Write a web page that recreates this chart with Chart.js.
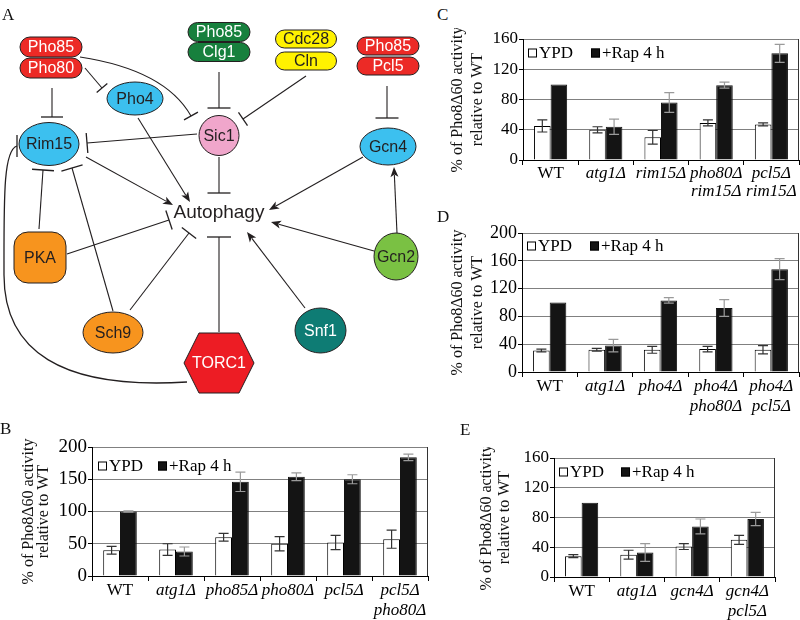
<!DOCTYPE html>
<html>
<head>
<meta charset="utf-8">
<script src="https://cdn.jsdelivr.net/npm/chart.js@4.4.1/dist/chart.umd.min.js"></script>
<style>
  body { margin: 0; background: #fff; }
  #page { position: relative; width: 800px; height: 620px; overflow: hidden; }
  canvas { position: absolute; }
  .tag { position: absolute; font: 17px "Liberation Serif", serif; color: #111; line-height: 1; }
</style>
</head>
<body>
<div id="page">
  <canvas id="net" width="430" height="400" style="left:0;top:0"></canvas>
  <canvas id="chartB" width="411" height="184" style="left:21px;top:436px"></canvas>
  <canvas id="chartC" width="352" height="177" style="left:448px;top:28px"></canvas>
  <canvas id="chartD" width="352" height="193" style="left:448px;top:222px"></canvas>
  <canvas id="chartE" width="302" height="173" style="left:478px;top:447px"></canvas>
  <div class="tag" style="left:2px;top:6px">A</div>
  <div class="tag" style="left:0px;top:420px">B</div>
  <div class="tag" style="left:437px;top:6px">C</div>
  <div class="tag" style="left:437px;top:208px">D</div>
  <div class="tag" style="left:460px;top:421px">E</div>
</div>
<script>
// ---- data ----
const seriesNames = ['YPD', '+Rap 4 h'];

// B
const bLabels = ['WT', 'atg1Δ', 'pho85Δ', 'pho80Δ', 'pcl5Δ', ['pcl5Δ', 'pho80Δ']];
const bYpd = [40, 41, 60, 50, 52, 57];
const bYpdErr = [6, 9, 6, 11, 11, 14];
const bRap = [100, 38, 146, 154, 150, 184];
const bRapErr = [1, 7, 15, 6, 7, 5];

// C
const cLabels = ['WT', 'atg1Δ', 'rim15Δ', ['pho80Δ', 'rim15Δ'], ['pcl5Δ', 'rim15Δ']];
const cYpd = [45, 40, 30, 49, 47];
const cYpdErr = [8, 4, 9, 4, 2];
const cRap = [100, 44, 76, 99, 141];
const cRapErr = [0, 10, 13, 4, 12];

// D
const dLabels = ['WT', 'atg1Δ', 'pho4Δ', ['pho4Δ', 'pho80Δ'], ['pho4Δ', 'pcl5Δ']];
const dYpd = [31, 32, 32, 33, 32];
const dYpdErr = [2, 2, 5, 4, 6];
const dRap = [100, 38, 103, 92, 148];
const dRapErr = [0, 9, 4, 12, 15];

// E
const eLabels = ['WT', 'atg1Δ', 'gcn4Δ', ['gcn4Δ', 'pcl5Δ']];
const eYpd = [28, 30, 41, 50];
const eYpdErr = [2, 6, 4, 6];
const eRap = [100, 33, 68, 78];
const eRapErr = [0, 12, 10, 9];

const yTitle = ['% of Pho8Δ60 activity', 'relative to WT'];
const serif = '"Liberation Serif", "Times New Roman", serif';
const sans = '"Liberation Sans", Arial, sans-serif';

// ---- panel A: pathway diagram (plain canvas) ----
const net = document.getElementById('net').getContext('2d');
const ink = '#231f20';

function pill(cx, cy, w, h, fill, text, color) {
  const r = h / 2, x = cx - w / 2, y = cy - h / 2;
  net.beginPath();
  net.moveTo(x + r, y);
  net.lineTo(x + w - r, y);
  net.arc(x + w - r, cy, r, -Math.PI / 2, Math.PI / 2);
  net.lineTo(x + r, y + h);
  net.arc(x + r, cy, r, Math.PI / 2, Math.PI * 1.5);
  net.closePath();
  net.fillStyle = fill; net.fill();
  net.strokeStyle = ink; net.lineWidth = 1; net.stroke();
  label(cx, cy, text, color);
}

function oval(cx, cy, rx, ry, fill, text, color) {
  net.beginPath();
  net.ellipse(cx, cy, rx, ry, 0, 0, Math.PI * 2);
  net.fillStyle = fill; net.fill();
  net.strokeStyle = ink; net.lineWidth = 1; net.stroke();
  label(cx, cy, text, color);
}

function label(cx, cy, text, color, size) {
  net.font = (size || 16) + 'px ' + sans;
  net.fillStyle = color;
  net.textAlign = 'center';
  net.textBaseline = 'middle';
  net.fillText(text, cx, cy + 1);
}

// line ending in a perpendicular bar (inhibition)
function tbar(x1, y1, x2, y2, half) {
  net.strokeStyle = ink; net.lineWidth = 1.1;
  net.beginPath(); net.moveTo(x1, y1); net.lineTo(x2, y2); net.stroke();
  endBar(x2, y2, x2 - x1, y2 - y1, half);
}

function endBar(x, y, dx, dy, half) {
  const len = Math.hypot(dx, dy), px = -dy / len, py = dx / len;
  net.lineWidth = 1.3;
  net.beginPath(); net.moveTo(x - px * half, y - py * half); net.lineTo(x + px * half, y + py * half); net.stroke();
}

function arrow(x1, y1, x2, y2) {
  const a = Math.atan2(y2 - y1, x2 - x1), L = 10, W = 4;
  net.strokeStyle = ink; net.lineWidth = 1.1;
  net.beginPath(); net.moveTo(x1, y1);
  net.lineTo(x2 - Math.cos(a) * L * 0.8, y2 - Math.sin(a) * L * 0.8); net.stroke();
  net.fillStyle = ink;
  net.beginPath();
  net.moveTo(x2, y2);
  net.lineTo(x2 - Math.cos(a) * L - Math.sin(a) * W, y2 - Math.sin(a) * L + Math.cos(a) * W);
  net.lineTo(x2 - Math.cos(a) * L * 0.75, y2 - Math.sin(a) * L * 0.75);
  net.lineTo(x2 - Math.cos(a) * L + Math.sin(a) * W, y2 - Math.sin(a) * L - Math.cos(a) * W);
  net.closePath(); net.fill();
}

// edges
tbar(52, 88, 52, 117, 11);          // Pho85/Pho80 -| Rim15
tbar(85, 68, 102, 88, 7);           // Pho80 -| Pho4
net.strokeStyle = ink; net.lineWidth = 1.1;
net.beginPath(); net.moveTo(80, 57); net.quadraticCurveTo(165, 70, 191, 116); net.stroke();
endBar(191, 116, 26, 46, 8);         // Pho85 -| Sic1
tbar(219, 72, 219, 108, 11.5);       // Clg1 -| Sic1
tbar(306, 76, 243, 119, 8);          // Cln -| Sic1
tbar(387, 86, 387, 118, 11.5);       // Pcl5 -| Gcn4
tbar(197, 134, 87, 143, 10);         // Sic1 -| Rim15
net.beginPath(); net.moveTo(187, 382);
net.bezierCurveTo(60, 390, 4, 350, 4, 275);
net.bezierCurveTo(4, 200, 3, 150, 17, 146); net.stroke();
endBar(17, 146, 1, 0, 11);           // TORC1 -| Rim15
tbar(39, 229, 43, 170, 11);          // PKA -| Rim15
tbar(113, 311, 72, 168, 11);         // Sch9 -| Rim15
arrow(86, 157, 173, 205);            // Rim15 -> Autophagy
arrow(138, 118, 190, 202);           // Pho4 -> Autophagy
tbar(219, 157, 219, 193, 11.5);      // Sic1 -| Autophagy
arrow(363, 157, 269, 210);           // Gcn4 -> Autophagy
arrow(374, 251, 271, 222);           // Gcn2 -> Autophagy
arrow(397, 233, 394, 167);           // Gcn2 -> Gcn4
arrow(305, 308, 247, 232);           // Snf1 -> Autophagy
tbar(219, 332, 219, 237, 12);        // TORC1 -| Autophagy
tbar(67, 254, 169, 220, 10);         // PKA -| Autophagy
tbar(130, 310, 189, 233, 9);         // Sch9 -| Autophagy

// nodes
pill(51, 47, 62, 20, '#ec2a26', 'Pho85', '#fff');
pill(51, 68, 62, 20, '#ec2a26', 'Pho80', '#fff');
pill(219, 32, 62, 19, '#17803d', 'Pho85', '#fff');
pill(219, 52, 62, 19, '#17803d', 'Clg1', '#fff');
pill(306, 39, 61, 18, '#fff200', 'Cdc28', ink);
pill(306, 61, 61, 18, '#fff200', 'Cln', ink);
pill(388, 46, 62, 18, '#ec2a26', 'Pho85', '#fff');
pill(388, 66, 62, 18, '#ec2a26', 'Pcl5', '#fff');
oval(135, 98.5, 28, 16.5, '#3cc0ef', 'Pho4', ink);
oval(49, 144, 30, 21.5, '#3cc0ef', 'Rim15', ink);
oval(219, 135.5, 20, 20, '#f0a6cb', 'Sic1', ink);
oval(388, 146.5, 28, 18.5, '#3cc0ef', 'Gcn4', ink);
oval(113, 332.5, 30, 20.5, '#f7941e', 'Sch9', ink);
oval(320.5, 330.5, 25.5, 22.5, '#0e7c74', 'Snf1', '#fff');
oval(396, 256.5, 22, 23.5, '#7ac143', 'Gcn2', ink);

// PKA rounded block
net.beginPath(); net.roundRect(14, 232, 52, 51, 14);
net.fillStyle = '#f7941e'; net.fill(); net.strokeStyle = ink; net.lineWidth = 1; net.stroke();
label(40, 257.5, 'PKA', ink);

// TORC1 hexagon
net.beginPath();
[[184, 363], [199, 333], [239, 333], [254, 363], [239, 393], [199, 393]].forEach((p, i) => i ? net.lineTo(p[0], p[1]) : net.moveTo(p[0], p[1]));
net.closePath();
net.fillStyle = '#ed1c24'; net.fill(); net.strokeStyle = ink; net.stroke();
label(219, 363, 'TORC1', '#fff');

label(219, 212, 'Autophagy', ink, 19);

// ---- panels B-E: bar charts ----
const errorBars = {
  id: 'errorBars',
  afterDatasetsDraw(chart) {
    const {ctx} = chart;
    const y = chart.scales.y;
    chart.data.datasets.forEach((ds, i) => {
      chart.getDatasetMeta(i).data.forEach((bar, j) => {
        const err = ds.errors[j];
        if (!err) return;
        const top = y.getPixelForValue(ds.data[j] + err);
        const bot = y.getPixelForValue(ds.data[j] - err);
        ctx.save();
        ctx.strokeStyle = ds.errorColor;
        ctx.lineWidth = 1.2;
        ctx.beginPath();
        ctx.moveTo(bar.x, top); ctx.lineTo(bar.x, bot);
        ctx.moveTo(bar.x - 5, top); ctx.lineTo(bar.x + 5, top);
        ctx.moveTo(bar.x - 5, bot); ctx.lineTo(bar.x + 5, bot);
        ctx.stroke();
        ctx.restore();
      });
    });
  }
};

// legend drawn inside the plot box, top-left
const boxLegend = {
  id: 'boxLegend',
  afterDraw(chart, args, opts) {
    const {ctx, chartArea} = chart;
    let x = chartArea.left + opts.dx;
    const y = chartArea.top + opts.dy;
    ctx.save();
    ctx.font = opts.size + 'px ' + serif;
    ctx.textBaseline = 'middle';
    chart.data.datasets.forEach(ds => {
      ctx.fillStyle = ds.backgroundColor;
      ctx.fillRect(x, y - 4.5, 9, 9);
      ctx.strokeStyle = '#000';
      ctx.lineWidth = 1;
      ctx.strokeRect(x + 0.5, y - 4, 8, 8);
      ctx.fillStyle = '#000';
      ctx.fillText(ds.label, x + 11, y + 1);
      x += 11 + ctx.measureText(ds.label).width + opts.gap;
    });
    ctx.restore();
  }
};

// right edge of the plot box
const frame = {
  id: 'frame',
  afterDraw(chart) {
    const {ctx, chartArea} = chart;
    ctx.save();
    ctx.strokeStyle = '#333';
    ctx.lineWidth = 1;
    ctx.beginPath();
    ctx.moveTo(Math.round(chartArea.right) - 0.5, chartArea.top);
    ctx.lineTo(Math.round(chartArea.right) - 0.5, chartArea.bottom);
    ctx.stroke();
    ctx.restore();
  }
};

const makeChart = (id, labels, ypd, ypdErr, rap, rapErr, s) => {
  new Chart(document.getElementById(id), {
    type: 'bar',
    data: {
      labels: labels,
      datasets: [
        { label: seriesNames[0], data: ypd, errors: ypdErr, errorColor: '#333',
          backgroundColor: '#ffffff', borderColor: '#000', borderWidth: 1,
          categoryPercentage: 0.6, barPercentage: 1.0 },
        { label: seriesNames[1], data: rap, errors: rapErr, errorColor: '#9a9a9a',
          backgroundColor: '#141414', borderColor: '#141414', borderWidth: 1,
          categoryPercentage: 0.6, barPercentage: 1.0 }
      ]
    },
    options: {
      responsive: false,
      animation: false,
      layout: { padding: { top: s.padTop, right: s.padRight, left: 0, bottom: 0 } },
      plugins: {
        legend: { display: false },
        tooltip: { enabled: false },
        boxLegend: { dx: s.legDx, dy: s.legDy, gap: s.legGap, size: 17 }
      },
      scales: {
        x: {
          grid: { drawOnChartArea: false, offset: true, tickLength: 5, color: '#000' },
          border: { color: '#000', width: 1 },
          ticks: {
            color: '#000', padding: 0, maxRotation: 0, autoSkip: false,
            font: (c) => ({ family: serif, size: 17, lineHeight: s.xLh / 17, style: c.index === 0 ? 'normal' : 'italic' })
          },
          afterFit: (scale) => { scale.height = s.xHeight; scale.paddingLeft = 0; scale.paddingRight = 0; }
        },
        y: {
          min: 0, max: s.max,
          grid: { color: '#808080', tickColor: '#000', tickLength: 4 },
          border: { color: '#000', width: 1 },
          ticks: { stepSize: s.step, color: '#000', padding: 1, font: { family: serif, size: s.yFont } },
          title: {
            display: true, text: yTitle, color: '#111',
            padding: { top: 0, bottom: 0 },
            font: { family: serif, size: 16, lineHeight: s.titleLh / 16 }
          },
          afterFit: (scale) => { scale.width = s.yWidth; scale.paddingTop = 0; scale.paddingBottom = 0; }
        }
      }
    },
    plugins: [errorBars, boxLegend, frame]
  });
};

makeChart('chartB', bLabels, bYpd, bYpdErr, bRap, bRapErr,
  { padTop: 11, padRight: 4, xHeight: 44, yWidth: 71, max: 200, step: 50, yFont: 19, titleLh: 15, xLh: 20, legDx: 6, legDy: 19, legGap: 15 });
makeChart('chartC', cLabels, cYpd, cYpdErr, cRap, cRapErr,
  { padTop: 11, padRight: 1, xHeight: 45, yWidth: 75, max: 160, step: 40, yFont: 17, titleLh: 20, xLh: 18, legDx: 5, legDy: 14, legGap: 18 });
makeChart('chartD', dLabels, dYpd, dYpdErr, dRap, dRapErr,
  { padTop: 11, padRight: 1, xHeight: 43, yWidth: 74, max: 200, step: 40, yFont: 18, titleLh: 20, xLh: 20, legDx: 5, legDy: 13, legGap: 18 });
makeChart('chartE', eLabels, eYpd, eYpdErr, eRap, eRapErr,
  { padTop: 11, padRight: 5, xHeight: 43, yWidth: 76, max: 160, step: 40, yFont: 17, titleLh: 18, xLh: 20, legDx: 5, legDy: 14, legGap: 17 });
</script>
</body>
</html>
